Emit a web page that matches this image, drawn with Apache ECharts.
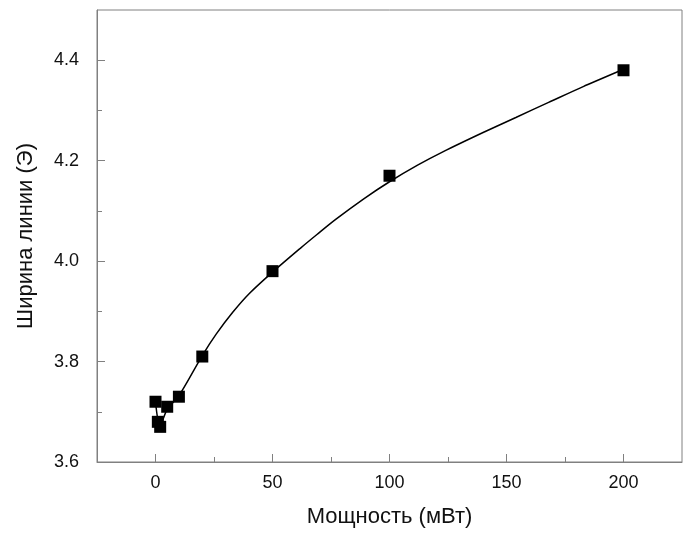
<!DOCTYPE html>
<html>
<head>
<meta charset="utf-8">
<script src="https://cdn.jsdelivr.net/npm/echarts@6/dist/echarts.min.js"></script>
<style>
html,body{margin:0;padding:0;background:#fff;}
#chart{width:691px;height:533px;}
</style>
</head>
<body>
<div id="chart"></div>
<script>
// Measured points
const powerMW = [0, 1, 2, 5, 10, 20, 50, 100, 200];
const lineWidthOe = [3.72, 3.68, 3.67, 3.71, 3.73, 3.81, 3.98, 4.17, 4.38];

// Fitted curve
const fitX = [0, 1, 2, 5, 10, 20, 26, 33, 40, 50, 62, 69, 77, 89, 100, 112, 123, 140, 154, 168, 183, 200];
const fitY = [3.72, 3.685, 3.675, 3.705, 3.732, 3.812, 3.855, 3.898, 3.935, 3.978, 4.026, 4.053, 4.083, 4.124, 4.158, 4.191, 4.218, 4.256, 4.286, 4.316, 4.348, 4.382];

// Axes
const xTicks = [0, 50, 100, 150, 200];
const xMinorTicks = [25, 75, 125, 175];
const yTicks = [3.6, 3.8, 4.0, 4.2, 4.4];
const yMinorTicks = [3.7, 3.9, 4.1, 4.3];
const xTitle = 'Мощность (мВт)';
const yTitle = 'Ширина линии (Э)';

const FONT = 'Arial, "Liberation Sans", sans-serif';
const AXIS_COLOR = '#808080';
const TEXT_COLOR = '#111';

const chart = echarts.init(document.getElementById('chart'), null, {renderer: 'canvas'});

const baseX = {
  type: 'value', min: -25, max: 225,
  splitLine: {show: false}
};
const baseY = {
  type: 'value', min: 3.6, max: 4.5,
  splitLine: {show: false}
};

chart.setOption({
  animation: false,
  backgroundColor: '#fff',
  grid: {left: 97, top: 10, right: 9, bottom: 70, show: true, borderColor: AXIS_COLOR, borderWidth: 1, backgroundColor: 'transparent'},
  xAxis: [
    Object.assign({}, baseX, {
      position: 'bottom',
      axisLine: {show: true, onZero: false, lineStyle: {color: AXIS_COLOR, width: 1}},
      name: xTitle, nameLocation: 'middle', nameGap: 44,
      nameTextStyle: {fontFamily: FONT, fontSize: 22, color: TEXT_COLOR},
      axisTick: {show: true, inside: true, length: 8, customValues: xTicks, lineStyle: {color: AXIS_COLOR, width: 1}},
      axisLabel: {show: true, customValues: xTicks, margin: 12, fontFamily: FONT, fontSize: 18, color: TEXT_COLOR,
        formatter: v => String(Math.round(v))}
    }),
    Object.assign({}, baseX, {
      position: 'bottom',
      axisLine: {show: false, onZero: false},
      axisTick: {show: true, inside: true, length: 5, customValues: xMinorTicks, lineStyle: {color: AXIS_COLOR, width: 1}},
      axisLabel: {show: false}
    })
  ],
  yAxis: [
    Object.assign({}, baseY, {
      position: 'left',
      axisLine: {show: true, onZero: false, lineStyle: {color: AXIS_COLOR, width: 1}},
      name: yTitle, nameLocation: 'middle', nameGap: 60, nameRotate: 90,
      nameTextStyle: {fontFamily: FONT, fontSize: 22, color: TEXT_COLOR},
      axisTick: {show: true, inside: true, length: 8, customValues: yTicks, lineStyle: {color: AXIS_COLOR, width: 1}},
      axisLabel: {show: true, customValues: yTicks, margin: 18, fontFamily: FONT, fontSize: 18, color: TEXT_COLOR,
        formatter: v => v.toFixed(1)}
    }),
    Object.assign({}, baseY, {
      position: 'left',
      axisLine: {show: false, onZero: false},
      axisTick: {show: true, inside: true, length: 5, customValues: yMinorTicks, lineStyle: {color: AXIS_COLOR, width: 1}},
      axisLabel: {show: false}
    })
  ],
  series: [
    {
      type: 'line',
      xAxisIndex: 0, yAxisIndex: 0,
      data: fitX.map((x, i) => [x, fitY[i]]),
      showSymbol: false,
      smooth: 0.3,
      lineStyle: {color: '#000', width: 1.5},
      z: 2
    },
    {
      type: 'scatter',
      xAxisIndex: 0, yAxisIndex: 0,
      data: powerMW.map((x, i) => [x, lineWidthOe[i]]),
      symbol: 'rect',
      symbolSize: 12,
      itemStyle: {color: '#000', opacity: 1},
      z: 3
    }
  ]
});
</script>
</body>
</html>
